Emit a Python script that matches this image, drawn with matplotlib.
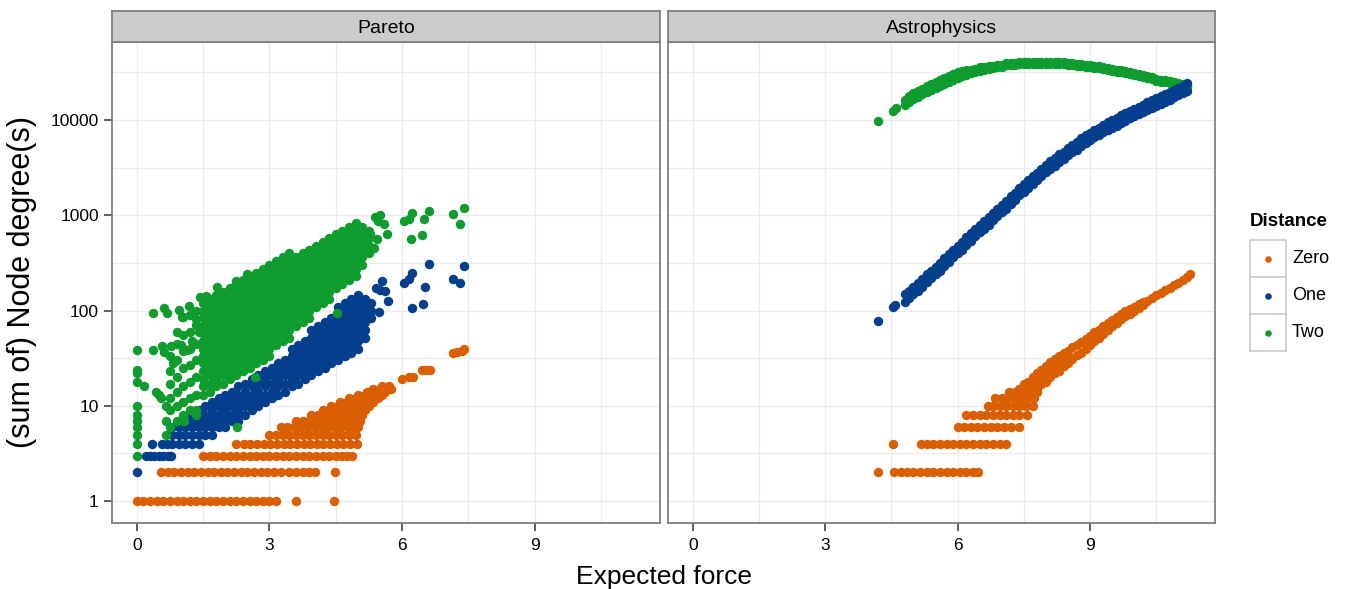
import numpy as np
import matplotlib.pyplot as plt
from matplotlib.patches import Rectangle
from matplotlib.ticker import FixedLocator, NullFormatter

plt.rcParams['font.family'] = ['Liberation Sans', 'DejaVu Sans']

# colours for the three distances
zero_col = '#D95F02'
one_col = '#033F8C'
two_col = '#0E9C2F'

# ---------------- Pareto panel ----------------
# distance zero: rows of equal degree -> (degree, expected force values)
pareto_zero_rows = [
    (1, [0, 0.15, 0.3, 0.45, 0.6, 0.75, 0.9, 1.05, 1.2, 1.35, 1.5, 1.65, 1.8, 1.95, 2.1, 2.25,
         2.4, 2.55, 2.7, 2.85, 3.0, 3.15, 3.6, 4.45]),
    (2, [0.54, 0.7, 0.85, 1.0, 1.15, 1.3, 1.45, 1.6, 1.75, 1.9, 2.05, 2.2, 2.35, 2.5, 2.65, 2.8,
         2.95, 3.1, 3.25, 3.44, 3.6, 3.75, 3.9, 4.04, 4.49]),
    (3, [1.5, 1.65, 1.8, 1.95, 2.1, 2.25, 2.4, 2.55, 2.7, 2.85, 3.0, 3.15, 3.3, 3.45, 3.6, 3.75,
         3.9, 4.05, 4.2, 4.35, 4.5, 4.65, 4.76, 4.87]),
    (4, [2.24, 2.42, 2.57, 2.72, 2.87, 3.02, 3.17, 3.32, 3.47, 3.62, 3.77, 3.92, 4.07, 4.22, 4.37,
         4.52, 4.67, 4.82, 4.98]),
    (5, [3.0, 3.15, 3.3, 3.45, 3.6, 3.75, 3.9, 4.05, 4.2, 4.35, 4.5, 4.65, 4.8, 4.95]),
    (6, [3.25, 3.4, 3.55, 3.7, 3.85, 4.0, 4.15, 4.3, 4.45, 4.6, 4.75, 4.9, 5.0]),
    (7, [3.6, 3.75, 3.9, 4.05, 4.2, 4.35, 4.5, 4.65, 4.8, 4.95, 5.05]),
    (8, [3.95, 4.1, 4.25, 4.4, 4.55, 4.7, 4.85, 5.0, 5.1]),
    (9, [4.2, 4.35, 4.5, 4.65, 4.8, 4.95, 5.15]),
    (10, [4.4, 4.55, 4.7, 4.85, 5.0, 5.15, 5.25]),
    (11, [4.6, 4.75, 4.9, 5.05, 5.2, 5.35]),
    (12, [4.8, 4.95, 5.1, 5.25, 5.45]),
    (13, [5.0, 5.15, 5.3, 5.45, 5.55]),
    (14, [5.2, 5.35, 5.5, 5.62]),
    (15, [5.35, 5.5, 5.65, 5.75]),
    (16, [5.55, 5.7]),
]
pareto_zero_x = [6.0, 6.15, 6.25, 6.45, 6.55, 6.64, 7.16, 7.25, 7.35, 7.4]
pareto_zero_y = [19, 20, 20, 24, 24, 24, 36, 37, 38, 40]

# distance one
pareto_one_rows = [
    (2, [0]),
    (3, [0.2, 0.3, 0.4, 0.5, 0.6, 0.7, 0.77]),
    (4, [0.35, 0.58, 0.68]),
]
pareto_one_cols = [
    (0.80, [4, 5, 6]),
    (0.95, [4, 5, 6]),
    (1.10, [4, 5, 6, 7]),
    (1.25, [4, 5, 6, 7, 8]),
    (1.40, [4, 5, 6, 7, 8, 9]),
    (1.55, [5, 6, 7, 8, 10]),
    (1.70, [5, 6, 7, 8, 9, 11]),
    (1.85, [6, 7, 8, 10, 12]),
    (2.00, [6, 7, 8, 9, 11, 13]),
    (2.15, [7, 8, 10, 12, 14]),
    (2.30, [7, 8, 9, 11, 13, 16]),
    (2.45, [8, 10, 12, 14, 17]),
    (2.60, [9, 11, 13, 16, 19]),
    (2.75, [10, 12, 14, 17, 21]),
    (2.90, [11, 13, 16, 19, 23]),
    (3.05, [12, 14, 17, 21, 25]),
    (3.20, [13, 16, 19, 23, 28]),
    (3.35, [14, 17, 21, 25, 30]),
    (3.50, [16, 19, 23, 28, 33, 40]),
    (3.65, [17, 21, 25, 30, 36, 44]),
    (3.80, [19, 23, 28, 33, 40, 48]),
    (3.95, [21, 25, 30, 36, 44, 52, 63]),
    (4.10, [23, 28, 33, 40, 48, 58, 69]),
    (4.25, [25, 30, 36, 44, 52, 63, 76]),
    (4.40, [28, 33, 40, 48, 58, 69, 83]),
    (4.55, [30, 36, 44, 52, 63, 76, 91, 110]),
    (4.70, [33, 40, 48, 58, 69, 83, 100, 120]),
    (4.85, [36, 44, 52, 63, 76, 91, 110, 132]),
    (5.00, [40, 48, 58, 69, 83, 100, 120, 145]),
    (5.15, [52, 63, 76, 91, 110, 132]),
    (5.30, [83, 100, 120]),
]
pareto_one_x = [5.4, 5.51, 5.55, 5.62, 5.69, 5.47, 6.04, 6.15, 6.22, 6.6, 6.52, 6.22, 6.47,
                7.16, 7.31, 7.39]
pareto_one_y = [174, 166, 204, 161, 126, 96, 196, 214, 250, 307, 175, 107, 117, 213, 196, 296]

# distance two
pareto_two_cols = [
    (0.00, [3, 4, 5, 6, 7, 8, 10, 18, 22, 24, 39]),
    (0.75, [6, 9, 12, 17, 33]),
    (0.90, [7, 10, 14, 20, 30, 45, 60]),
    (1.05, [8, 11, 16, 25, 38, 55, 85]),
    (1.20, [9, 12, 18, 27, 40, 60, 90]),
    (1.35, [9, 13, 20, 30, 45, 70, 100]),
    (1.50, [13, 16, 19, 23, 28, 33, 40, 48, 58, 69, 83, 100, 120]),
    (1.65, [14, 17, 21, 25, 30, 36, 44, 52, 63, 76, 91, 110, 132]),
    (1.80, [16, 19, 23, 28, 33, 40, 48, 58, 69, 83, 100, 120, 145]),
    (1.95, [17, 21, 25, 30, 36, 44, 52, 63, 76, 91, 110, 132, 158]),
    (2.10, [19, 23, 28, 33, 40, 48, 58, 69, 83, 100, 120, 145, 174]),
    (2.25, [21, 25, 30, 36, 44, 52, 63, 76, 91, 110, 132, 158, 191]),
    (2.40, [23, 28, 33, 40, 48, 58, 69, 83, 100, 120, 145, 174, 209]),
    (2.55, [25, 30, 36, 44, 52, 63, 76, 91, 110, 132, 158, 191, 229]),
    (2.70, [28, 33, 40, 48, 58, 69, 83, 100, 120, 145, 174, 209, 251]),
    (2.85, [30, 36, 44, 52, 63, 76, 91, 110, 132, 158, 191, 229, 275]),
    (3.00, [33, 40, 48, 58, 69, 83, 100, 120, 145, 174, 209, 251, 302]),
    (3.15, [44, 52, 63, 76, 91, 110, 132, 158, 191, 229, 275, 331]),
    (3.30, [48, 58, 69, 83, 100, 120, 145, 174, 209, 251, 302, 363]),
    (3.45, [52, 63, 76, 91, 110, 132, 158, 191, 229, 275, 331, 398]),
    (3.60, [69, 83, 100, 120, 145, 174, 209, 251, 302, 363]),
    (3.75, [76, 91, 110, 132, 158, 191, 229, 275, 331, 398]),
    (3.90, [83, 100, 120, 145, 174, 209, 251, 302, 363, 437]),
    (4.05, [110, 132, 158, 191, 229, 275, 331, 398, 479]),
    (4.20, [120, 145, 174, 209, 251, 302, 363, 437, 525]),
    (4.35, [132, 158, 191, 229, 275, 331, 398, 479, 575]),
    (4.50, [174, 209, 251, 302, 363, 437, 525, 631]),
    (4.65, [191, 229, 275, 331, 398, 479, 575, 692]),
    (4.80, [209, 251, 302, 363, 437, 525, 631, 759]),
    (4.95, [229, 275, 331, 398, 479, 575, 692, 832]),
    (5.10, [302, 363, 437, 525, 631, 759]),
    (5.25, [398, 479, 575, 692]),
]
pareto_two_x = [0.16, 0.37, 0.37, 0.43, 0.5, 0.54, 0.58, 0.62, 0.62, 0.65, 0.65, 0.65, 0.69,
                0.75, 0.77, 0.81, 0.95, 0.99, 1.03, 1.07, 1.14, 1.18, 1.26, 1.33, 1.33, 1.41,
                1.44, 1.56, 1.82, 1.97, 2.24, 2.5, 2.27, 2.68, 4.53,
                5.28, 5.36, 5.39, 5.45, 5.43, 5.51, 5.58, 5.66, 6.04, 6.15, 6.22, 6.19, 6.45,
                6.49, 6.6, 7.16, 7.31, 7.39]
pareto_two_y = [16, 95, 39, 14, 13, 12, 43, 37, 107, 10, 7, 5, 95,
                23, 42, 28, 102, 44, 85, 7, 39, 112, 48, 81, 8, 60,
                138, 141, 178, 148, 204, 240, 6, 20, 95,
                631, 457, 955, 870, 562, 1000, 813, 631, 870, 912, 1070, 562, 617,
                912, 1120, 1023, 813, 1200]

# ---------------- Astrophysics panel ----------------
astro_zero_rows = [
    (2, [4.2, 4.56, 4.72, 4.85, 5.0, 5.15, 5.3, 5.45, 5.6, 5.75, 5.9, 6.05, 6.2, 6.35, 6.46]),
    (4, [4.54, 5.18, 5.3, 5.45, 5.6, 5.75, 5.9, 6.05, 6.2, 6.35, 6.5, 6.65, 6.8, 6.95, 7.1]),
    (6, [6.0, 6.15, 6.3, 6.45, 6.6, 6.75, 6.9, 7.05, 7.2, 7.4]),
    (8, [6.2, 6.35, 6.5, 6.65, 6.8, 6.95, 7.1, 7.25, 7.4, 7.58]),
    (10, [6.68, 6.8, 6.95, 7.1, 7.25, 7.4, 7.55, 7.7]),
    (12, [6.85, 7.0, 7.15, 7.3, 7.45, 7.6, 7.73]),
    (14, [7.17, 7.3, 7.45, 7.6, 7.8]),
]
astro_zero_cols = [
    (7.4, [12, 15]), (7.5, [13, 17]), (7.6, [14, 16, 18]), (7.7, [15, 17, 20]),
    (7.8, [15, 18, 22]), (7.9, [17, 20, 24]), (8.0, [18, 22, 26]), (8.1, [20, 24, 29]),
    (8.2, [22, 26, 31]), (8.3, [23, 28, 33]), (8.4, [26, 30, 36]), (8.5, [28, 33, 38]),
    (8.6, [31, 41]), (8.7, [34, 44]), (8.8, [36, 47]), (8.9, [40, 50]), (9.0, [44, 54]),
    (9.1, [48, 59]), (9.2, [52, 63]), (9.3, [57, 69]), (9.4, [63, 74]), (9.5, [69, 79]),
    (9.6, [74, 85]), (9.7, [81, 91]), (9.8, [87, 98]), (9.9, [93, 105]), (10.0, [100, 110]),
    (10.1, [107, 117]), (10.2, [115, 123]), (10.3, [127]), (10.4, [135]), (10.5, [145]),
    (10.6, [153]), (10.7, [164]), (10.8, [174]), (10.9, [186]), (11.0, [197]),
    (11.1, [211]), (11.2, [226]), (11.27, [245]),
]

astro_x = [4.8, 4.9, 5.0, 5.1, 5.2, 5.3, 5.4, 5.5, 5.6, 5.7, 5.8, 5.9, 6.0, 6.1, 6.2, 6.3,
           6.4, 6.5, 6.6, 6.7, 6.8, 6.9, 7.0, 7.1, 7.2, 7.3, 7.4, 7.5, 7.6, 7.7, 7.8, 7.9,
           8.0, 8.1, 8.2, 8.3, 8.4, 8.5, 8.6, 8.7, 8.8, 8.9, 9.0, 9.1, 9.2, 9.3, 9.4, 9.5,
           9.6, 9.7, 9.8, 9.9, 10.0, 10.1, 10.2, 10.3, 10.4, 10.5, 10.6, 10.7, 10.8, 10.9,
           11.0, 11.1, 11.2]

astro_one_lo = [123, 135, 148, 162, 178, 200, 219, 240, 263, 296, 324, 363, 399, 437, 490, 537,
                603, 661, 724, 795, 891, 978, 1072, 1175, 1318, 1446, 1622, 1779, 1951, 2139,
                2345, 2571, 2819, 3091, 3313, 3632, 3892, 4267, 4573, 4900, 5372, 5757, 6169,
                6609, 6922, 7416, 7947, 8321, 8714, 9334, 9781, 10470, 10970, 11490, 12030,
                12890, 13500, 14130, 14800, 15490, 16220, 17380, 18200, 19060, 20430]
astro_one_hi = [148, 162, 178, 195, 214, 240, 263, 288, 316, 355, 389, 436, 479, 525, 589, 646,
                724, 794, 870, 955, 1071, 1175, 1288, 1412, 1584, 1737, 1949, 2137, 2343, 2569,
                2817, 3089, 3387, 3713, 3980, 4363, 4676, 5126, 5493, 5886, 6453, 6916, 7410,
                7939, 8314, 8908, 9546, 10000, 10470, 11210, 11750, 12580, 13170, 13800, 14450,
                15490, 16210, 16980, 17780, 18610, 19490, 20880, 21870, 22900, 24540]
astro_one_x = [4.2, 4.54, 4.59]
astro_one_y = [78, 110, 115]

astro_two_lo = [14320, 15490, 16600, 17540, 18620, 19720, 20890, 21880, 22910, 23990, 25120,
                26610, 27800, 28970, 29850, 30900, 31620, 32590, 33880, 34430, 35240, 35810,
                36310, 37500, 37840, 38190, 38550, 38820, 38900, 39080, 39080, 39080, 39080,
                38990, 38900, 38730, 38370, 38020, 37670, 37330, 36900, 36390, 35890, 35400,
                34910, 34360, 33730, 33110, 32360, 31770, 31050, 30340, 29510, 28840, 28180,
                27540, 26730, 26000, 25410, 24830, 24270, 23710, 23170, 22650, 22130]
astro_two_hi = [16440, 17780, 19050, 20140, 21380, 22650, 23990, 25120, 26300, 27540, 28840,
                30550, 31920, 32510, 33500, 33880, 34670, 35730, 36310, 36900, 36900, 37500,
                38020, 39380, 39730, 40100, 40480, 40760, 40850, 41030, 41030, 41030, 41030,
                40940, 40850, 40670, 40290, 39920, 39550, 39200, 38750, 38210, 37680, 37170,
                36660, 36080, 35420, 34770, 33980, 33360, 32600, 31860, 30990, 30280, 29590,
                28920, 28070, 27300, 26680, 26070, 25480, 24900, 24330, 23780, 23240]
astro_two_x = [4.2, 4.54, 4.61]
astro_two_y = [9700, 12500, 13300]


def rows_xy(rows):
    xs, ys = [], []
    for y, row in rows:
        xs += row
        ys += [y] * len(row)
    return xs, ys


def cols_xy(cols):
    xs, ys = [], []
    for x, col in cols:
        xs += [x] * len(col)
        ys += col
    return xs, ys


W, H = 1349, 589
fig = plt.figure(figsize=(W / 100, H / 100), dpi=100)

panel_top, panel_bot = 42, 523
strip_top = 11
panels = [(112, 660, 'Pareto'), (668, 1215, 'Astrophysics')]
axes = []
for i, (x0, x1, title) in enumerate(panels):
    ax = fig.add_axes([x0 / W, 1 - panel_bot / H, (x1 - x0) / W, (panel_bot - panel_top) / H])
    ax.set_yscale('log')
    ax.set_xlim(-0.56, 11.83)
    ax.set_ylim(10 ** -0.23, 10 ** 4.82)
    ax.set_xticks([0, 3, 6, 9])
    ax.set_xticklabels(['0', '3', '6', '9'])
    ax.xaxis.set_minor_locator(FixedLocator([1.5, 4.5, 7.5, 10.5]))
    ax.set_yticks([1, 10, 100, 1000, 10000])
    ax.set_yticklabels(['1', '10', '100', '1000', '10000'])
    ax.yaxis.set_minor_locator(FixedLocator([10 ** 0.5, 10 ** 1.5, 10 ** 2.5, 10 ** 3.5, 10 ** 4.5]))
    ax.yaxis.set_minor_formatter(NullFormatter())
    ax.grid(which='both', color='#EBEBEB', lw=1.0)
    ax.set_axisbelow(True)
    ax.tick_params(which='minor', length=0)
    ax.tick_params(which='major', length=5.5, width=1.1, color='#333333', labelsize=12.5,
                   labelcolor='black')
    ax.tick_params(axis='x', pad=5)
    ax.tick_params(axis='y', pad=4)
    for sp in ax.spines.values():
        sp.set_color('#7F7F7F')
        sp.set_linewidth(1.3)
    if i == 1:
        ax.tick_params(axis='y', which='both', left=False, labelleft=False)

    # strip on top
    sax = fig.add_axes([x0 / W, 1 - panel_top / H, (x1 - x0) / W, (panel_top - strip_top) / H])
    sax.set_facecolor('#CCCCCC')
    sax.set_xticks([])
    sax.set_yticks([])
    for sp in sax.spines.values():
        sp.set_color('#7F7F7F')
        sp.set_linewidth(1.3)
    sax.text(0.5, 0.45, title, ha='center', va='center', fontsize=14, color='black',
             transform=sax.transAxes)
    axes.append(ax)

kw = dict(s=46, linewidths=0, zorder=3)

# Pareto
ax = axes[0]
x, y = rows_xy(pareto_zero_rows)
ax.scatter(x, y, color=zero_col, **kw)
ax.scatter(pareto_zero_x, pareto_zero_y, color=zero_col, **kw)
x, y = rows_xy(pareto_one_rows)
ax.scatter(x, y, color=one_col, **kw)
x, y = cols_xy(pareto_one_cols)
ax.scatter(x, y, color=one_col, **kw)
ax.scatter(pareto_one_x, pareto_one_y, color=one_col, **kw)
x, y = cols_xy(pareto_two_cols)
ax.scatter(x, y, color=two_col, **kw)
ax.scatter(pareto_two_x, pareto_two_y, color=two_col, **kw)

# Astrophysics
ax = axes[1]
x, y = rows_xy(astro_zero_rows)
ax.scatter(x, y, color=zero_col, **kw)
x, y = cols_xy(astro_zero_cols)
ax.scatter(x, y, color=zero_col, **kw)
ax.scatter(astro_two_x, astro_two_y, color=two_col, **kw)
ax.scatter(astro_x, astro_two_lo, color=two_col, **kw)
ax.scatter(astro_x, astro_two_hi, color=two_col, **kw)
ax.scatter(astro_one_x, astro_one_y, color=one_col, **kw)
ax.scatter(astro_x, astro_one_lo, color=one_col, **kw)
ax.scatter(astro_x, astro_one_hi, color=one_col, **kw)

# axis titles
fig.text(663.5 / W, 1 - 577 / H, 'Expected force', ha='center', va='center', fontsize=19)
fig.text(22 / W, 1 - 282 / H, '(sum of) Node degree(s)', ha='center', va='center',
         fontsize=22, rotation=90)

# legend drawn in pixel coordinates
lax = fig.add_axes([0, 0, 1, 1], facecolor='none')
lax.set_xlim(0, W)
lax.set_ylim(H, 0)
lax.axis('off')
lax.text(1250, 222, 'Distance', ha='left', va='center', fontsize=13.5, fontweight='bold')
legend_labels = ['Zero', 'One', 'Two']
legend_cols = [zero_col, one_col, two_col]
for k, (lab, c) in enumerate(zip(legend_labels, legend_cols)):
    top = 240 + k * 37
    lax.add_patch(Rectangle((1250, top), 36, 37, facecolor='white', edgecolor='#CCCCCC', lw=1.2))
    lax.scatter([1268], [top + 18.5], s=22, color=c, linewidths=0)
    lax.text(1292, top + 18.5, lab, ha='left', va='center', fontsize=13)

fig.savefig('out.png', dpi=100)
